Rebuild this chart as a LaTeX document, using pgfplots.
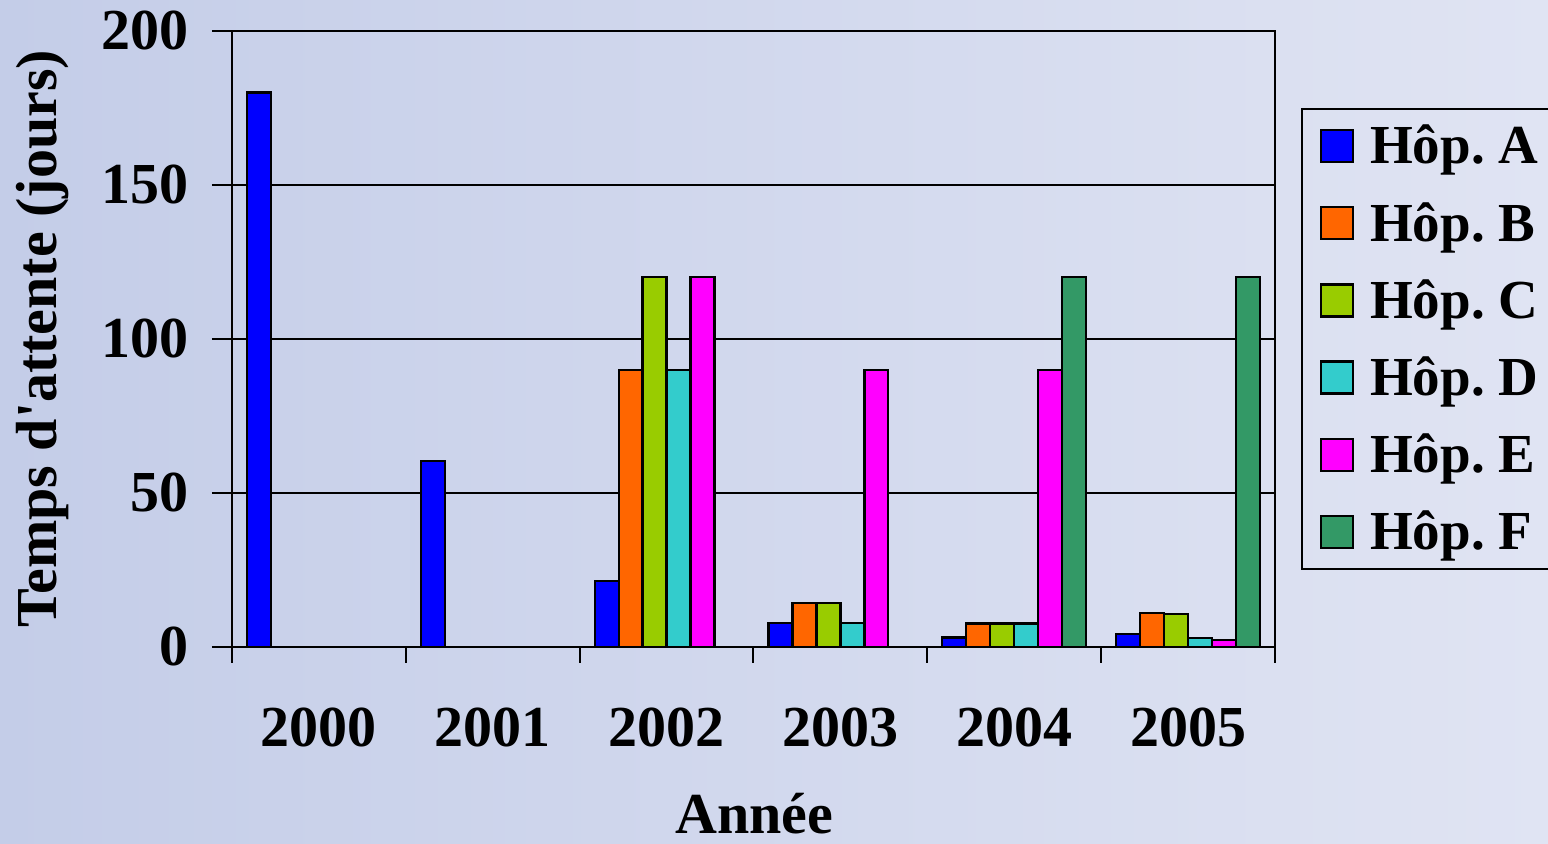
\documentclass[border=0pt]{standalone}
\usepackage{pgfplots}
\pgfplotsset{compat=1.18}
\usepackage{fontspec}
\setmainfont{Liberation Serif}
\definecolor{cA}{HTML}{0000FF}
\definecolor{cB}{HTML}{FF6600}
\definecolor{cC}{HTML}{99CC00}
\definecolor{cD}{HTML}{33CCCC}
\definecolor{cE}{HTML}{FF00FF}
\definecolor{cF}{HTML}{339966}
\definecolor{bgL}{RGB}{196,205,232}
\definecolor{bgR}{RGB}{224,228,243}
\newcommand{\bigfont}{\bfseries\fontsize{29}{33}\selectfont}
\newcommand{\legfont}{\bfseries\fontsize{27.5}{31}\selectfont}
\frenchspacing
\begin{document}
\begin{tikzpicture}
\shade[left color=bgL, right color=bgR] (-116pt,-98.5pt) rectangle (658pt,323.5pt);
\useasboundingbox (-116pt,-98.5pt) rectangle (658pt,323.5pt);
\begin{axis}[
  at={(0,0)}, anchor=south west,
  scale only axis, width=521.5pt, height=308pt,
  ybar=0pt, bar width=0.138,
  xmin=-0.5, xmax=5.5, ymin=0, ymax=200,
  xtick={0,1,2,3,4,5}, xticklabels={2000,2001,2002,2003,2004,2005},
  minor xtick={-0.5,0.5,1.5,2.5,3.5,4.5,5.5},
  ytick={0,50,100,150,200},
  ymajorgrids, major grid style={black, line width=0.8pt},
  axis line style={black, line width=1pt},
  tick align=outside, tick pos=left,
  major tick length=10pt, minor tick length=8pt,
  major x tick style={draw=none},
  minor x tick style={black, line width=1pt},
  major y tick style={black, line width=1pt},
  /pgf/number format/assume math mode=true,
  /pgf/number format/1000 sep={},
  tick label style={font=\bigfont},
  xticklabel style={yshift=-17pt},
  yticklabel style={xshift=-8pt},
  every axis y label/.style={at={(axis description cs:-0.182,0.5)}, rotate=90, anchor=center, font=\bigfont},
  every axis x label/.style={at={(axis description cs:0.501,-0.27)}, anchor=center, font=\bigfont},
  ylabel={Temps d\textquotesingle attente (jours)},
  xlabel={Année},
  legend style={at={(1.025,0.5)}, anchor=west, draw=black, line width=1pt, fill=none,
    font=\legfont, row sep=13.7pt, inner xsep=9pt, inner ysep=6pt},
  legend cell align=left,
  legend image code/.code={\draw[#1, line width=1.1pt] (0pt,-8pt) rectangle (16pt,8pt); \path[draw=none,fill=none] (0pt,0pt) -- (22.5pt,0pt);},
  every axis plot/.append style={draw=black, line width=1.1pt},
]
\addplot[fill=cA] coordinates {(0,180) (1,60.5) (2,21.5) (3,7.7) (4,3.1) (5,4.1)};
\addplot[fill=cB] coordinates {(2,90) (3,14.2) (4,7.6) (5,11.1)};
\addplot[fill=cC] coordinates {(2,120) (3,14.2) (4,7.6) (5,10.6)};
\addplot[fill=cD] coordinates {(2,90) (3,7.7) (4,7.6) (5,3)};
\addplot[fill=cE] coordinates {(2,120) (3,90) (4,90) (5,2.3)};
\addplot[fill=cF] coordinates {(4,120) (5,120)};
\legend{Hôp. A, Hôp. B, Hôp. C, Hôp. D, Hôp. E, Hôp. F}
\end{axis}
\end{tikzpicture}
\end{document}
